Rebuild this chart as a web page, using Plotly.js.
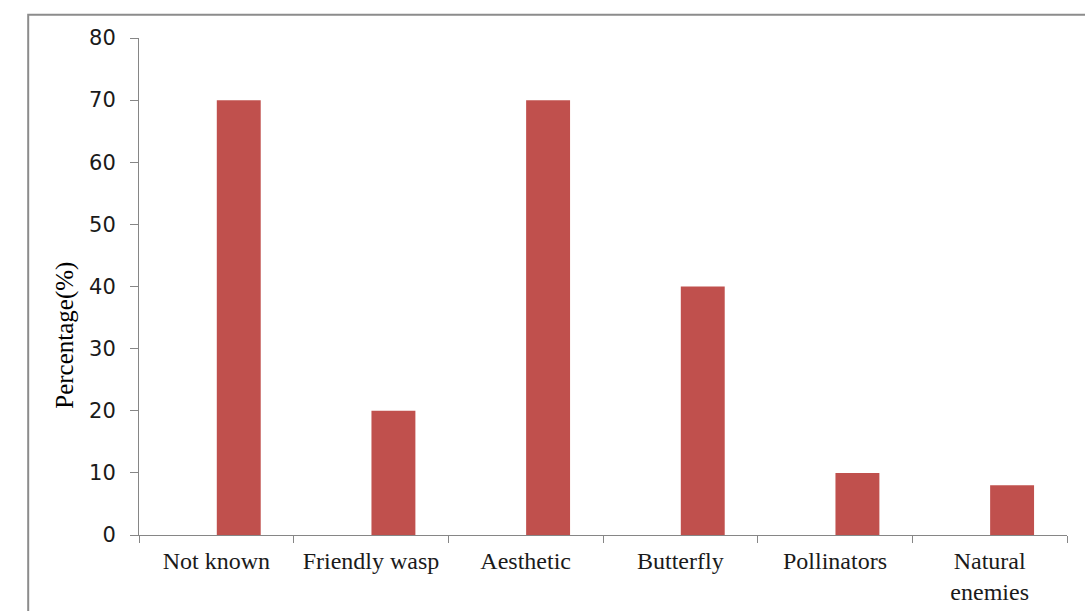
<!DOCTYPE html>
<html>
<head>
<meta charset="utf-8">
<script src="https://cdn.plot.ly/plotly-3.0.1.min.js"></script>
<style>html,body{margin:0;padding:0;background:#fff;}#chart{width:1085px;height:611px;}</style>
</head>
<body>
<div id="chart"></div>
<script>
const categories = ["Not known", "Friendly wasp", "Aesthetic", "Butterfly", "Pollinators", "Natural<br>enemies"];
const percentages = [70, 20, 70, 40, 10, 8];
const yTicks = [0, 10, 20, 30, 40, 50, 60, 70, 80];
const yTitle = "Percentage(%)";

const trace = {
  type: "bar",
  x: categories,
  y: percentages,
  width: 0.284,
  offset: 0.003,
  marker: {color: "#C0504D", line: {width: 0}},
  hoverinfo: "x+y"
};

const layout = {
  width: 1085,
  height: 611,
  margin: {l: 139, r: 18, t: 38, b: 76},
  paper_bgcolor: "#ffffff",
  plot_bgcolor: "#ffffff",
  showlegend: false,
  font: {family: "Liberation Serif", color: "#000"},
  xaxis: {
    type: "category",
    tickson: "boundaries",
    ticks: "outside",
    ticklen: 7,
    tickcolor: "#868686",
    showline: true,
    linecolor: "#868686",
    linewidth: 1,
    showgrid: false,
    zeroline: false,
    tickangle: 0,
    tickfont: {family: "Liberation Serif", size: 24, color: "#1a1a1a"},
    ticklabelstandoff: 4,
    range: [-0.5, 5.5]
  },
  yaxis: {
    range: [0, 80],
    tickvals: yTicks,
    ticks: "outside",
    ticklen: 8,
    tickcolor: "#868686",
    showline: true,
    linecolor: "#868686",
    linewidth: 1,
    showgrid: false,
    zeroline: false,
    tickfont: {family: "DejaVu Sans", size: 21, color: "#1a1a1a"},
    ticklabelstandoff: 10
  },
  annotations: [{
    text: yTitle, xref: "paper", yref: "paper",
    x: -0.0797, y: 0.401, xanchor: "center", yanchor: "middle",
    textangle: -90, showarrow: false,
    font: {family: "Liberation Serif", size: 25, color: "#000"}
  }],
  shapes: [{
    type: "rect", xref: "paper", yref: "paper",
    x0: -0.1194, x1: 1.1, y0: -0.3, y1: 1.0466,
    line: {color: "#8c8c8c", width: 2}
  }]
};

Plotly.newPlot("chart", [trace], layout, {displayModeBar: false, staticPlot: true});
</script>
</body>
</html>
